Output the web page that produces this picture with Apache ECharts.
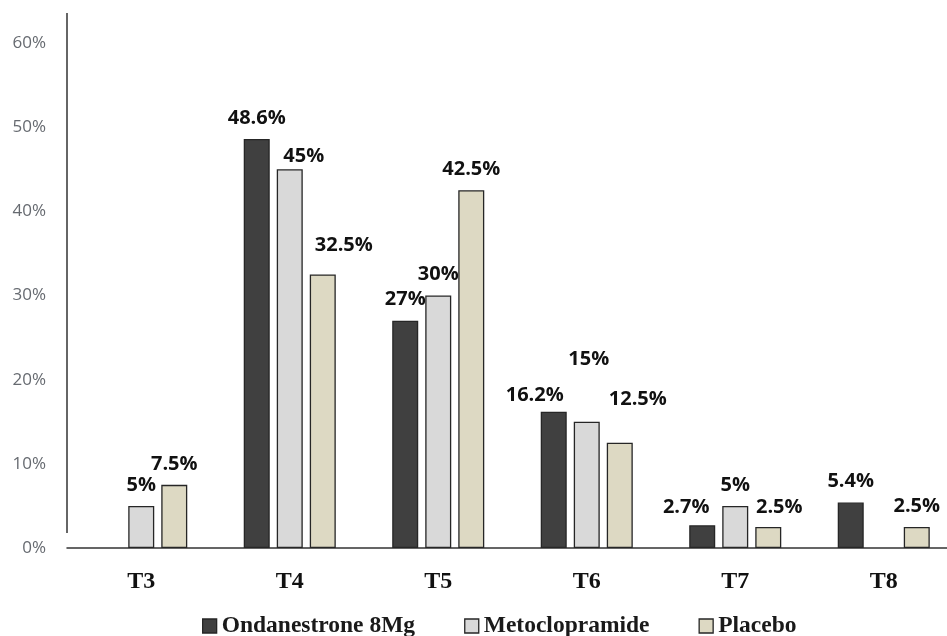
<!DOCTYPE html>
<html>
<head>
<meta charset="utf-8">
<script src="https://cdn.jsdelivr.net/npm/echarts@6/dist/echarts.min.js"></script>
<style>
  html, body { margin: 0; padding: 0; background: #fff; }
  #chart { width: 947px; height: 636px; }
</style>
</head>
<body>
<div id="chart"></div>
<script>
// Time points and percentage of patients per group
const categories = ['T3', 'T4', 'T5', 'T6', 'T7', 'T8'];
const ondansetron = [null, 48.6, 27, 16.2, 2.7, 5.4];
const metoclopramide = [5, 45, 30, 15, 5, null];
const placebo = [7.5, 32.5, 42.5, 12.5, 2.5, 2.5];
const seriesNames = ['Ondanestrone 8Mg', 'Metoclopramide', 'Placebo'];
const yTicks = [0, 10, 20, 30, 40, 50, 60];

// Hand-placed label nudges [dx, dy] per series and category
const labelNudge = [
  [[0, 0], [0, 0], [0, 0], [-19, 5], [-16, 3], [0, 0]],
  [[0, 0], [14, 8], [0, 0], [2, -41], [0, 0], [0, 0]],
  [[0, 0], [21, -8], [0, 0], [18, -22], [11, 1], [0, 0]]
];

const colors = ['#404040', '#d9d9d9', '#ddd9c3'];
const chart = echarts.init(document.getElementById('chart'), null, { renderer: 'canvas' });

function buildSeries(name, values, idx) {
  return {
    name: name,
    type: 'bar',
    barWidth: 26,
    barGap: '27%',
    itemStyle: { color: colors[idx], borderColor: '#262626', borderWidth: 1.3 },
    label: {
      show: true,
      position: 'top',
      distance: 11,
      fontFamily: 'Open Sans',
      fontWeight: 'bold',
      fontSize: 20,
      color: '#111',
      formatter: p => p.value + '%'
    },
    data: values.map((v, i) => ({
      value: v,
      label: { offset: labelNudge[idx][i] }
    }))
  };
}

chart.setOption({
  animation: false,
  grid: { left: 67, width: 891, top: 43, bottom: 88, containLabel: false, outerBoundsMode: 'none' },
  legend: {
    data: seriesNames,
    left: 197,
    top: 609,
    itemWidth: 14,
    itemHeight: 14,
    itemGap: 49,
    icon: 'rect',
    itemStyle: { borderColor: '#262626', borderWidth: 1.3 },
    textStyle: { fontFamily: 'Liberation Serif', fontWeight: 'bold', fontSize: 23.5, color: '#1a1a1a' }
  },
  xAxis: {
    type: 'category',
    data: categories,
    axisLine: { lineStyle: { color: '#333', width: 1.5 } },
    axisTick: { show: false },
    axisLabel: { margin: 22, fontFamily: 'Liberation Serif', fontWeight: 'bold', fontSize: 24, color: '#111' }
  },
  yAxis: {
    type: 'value',
    min: yTicks[0],
    max: yTicks[yTicks.length - 1],
    interval: 10,
    axisLine: { show: false },
    axisTick: { show: false },
    splitLine: { show: false },
    axisLabel: { margin: 21, fontFamily: 'Open Sans', fontSize: 17, color: '#666a70', formatter: '{value}%' }
  },
  graphic: [{
    type: 'line',
    shape: { x1: 67, y1: 13, x2: 67, y2: 533 },
    style: { stroke: '#333', lineWidth: 1.5 }
  }],
  series: [
    buildSeries(seriesNames[0], ondansetron, 0),
    buildSeries(seriesNames[1], metoclopramide, 1),
    buildSeries(seriesNames[2], placebo, 2)
  ]
});
</script>
</body>
</html>
